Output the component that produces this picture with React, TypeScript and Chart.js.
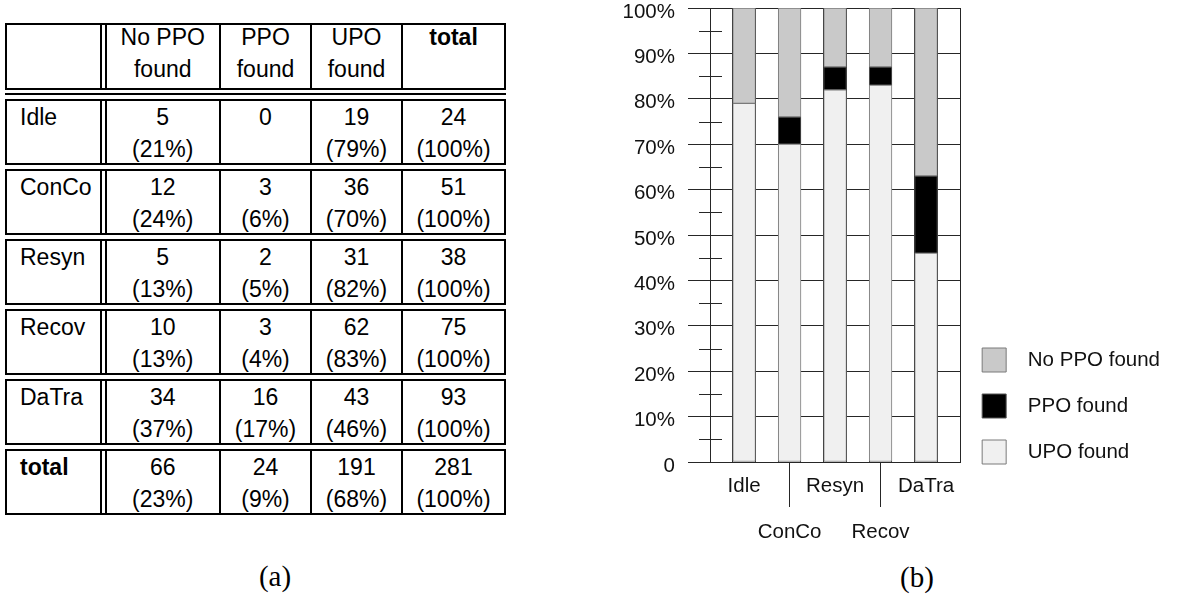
import React, { useEffect, useRef } from 'react';
import { Chart, registerables } from 'chart.js';

Chart.register(...registerables);

// ---------- chart data (percent of cases per category) ----------
const categories = ['Idle', 'ConCo', 'Resyn', 'Recov', 'DaTra'];
const upoFoundPct = [79, 70, 82, 83, 46];
const ppoFoundPct = [0, 6, 5, 4, 17];
const noPpoFoundPct = [21, 24, 13, 13, 37];
const seriesLabels = ['No PPO found', 'PPO found', 'UPO found'];
const minorTickValues = [5, 15, 25, 35, 45, 55, 65, 75, 85, 95];

// ---------- table data ----------
const headerCells = ['', 'No PPO\nfound', 'PPO\nfound', 'UPO\nfound', 'total'];
const rowNames = ['Idle', 'ConCo', 'Resyn', 'Recov', 'DaTra', 'total'];
const noPpoCount = [5, 12, 5, 10, 34, 66];
const noPpoShare = ['21%', '24%', '13%', '13%', '37%', '23%'];
const ppoCount = [0, 3, 2, 3, 16, 24];
const ppoShare = ['', '6%', '5%', '4%', '17%', '9%'];
const upoCount = [19, 36, 31, 62, 43, 191];
const upoShare = ['79%', '70%', '82%', '83%', '46%', '68%'];
const totalCount = [24, 51, 38, 75, 93, 281];
const totalShare = ['100%', '100%', '100%', '100%', '100%', '100%'];

// ---------- layout (not data) ----------
const GRID_COLUMNS = 11; // bars sit in every second column of the plot grid
const barX = (i: number) => 2 * i + 1.5;
const GRID = '#262626';
const TEXT = '#111';
const FONT_SIZE = 20.5;

const COL_LINES = [93, 97.5, 212, 303, 394];
const CELLS: [number, number][] = [[0, 93], [99.5, 212], [214, 303], [305, 394], [396, 497]];

const minorTicksPlugin = {
  id: 'minorTicks',
  afterDatasetsDraw(chart: any) {
    const { ctx, chartArea, scales } = chart;
    const y = scales.y;
    ctx.save();
    ctx.strokeStyle = GRID;
    ctx.lineWidth = 1;
    minorTickValues.forEach((v) => {
      const py = Math.round(y.getPixelForValue(v)) + 0.5;
      ctx.beginPath();
      ctx.moveTo(chartArea.left - 11, py);
      ctx.lineTo(chartArea.left + 12, py);
      ctx.stroke();
    });
    ctx.restore();
  },
};

function StackedChart() {
  const ref = useRef<HTMLCanvasElement>(null);
  useEffect(() => {
    Chart.defaults.font.family = "'Liberation Sans', Arial, sans-serif";
    const pts = (vals: number[]) => categories.map((_, i) => ({ x: barX(i), y: vals[i] }));
    const chart = new Chart(ref.current as HTMLCanvasElement, {
      type: 'bar',
      data: {
        datasets: [
          { label: seriesLabels[2], data: pts(upoFoundPct), backgroundColor: '#f0f0f0', borderColor: '#7a7a7a' },
          { label: seriesLabels[1], data: pts(ppoFoundPct), backgroundColor: '#000000', borderColor: '#555555' },
          { label: seriesLabels[0], data: pts(noPpoFoundPct), backgroundColor: '#c9c9c9', borderColor: '#7a7a7a' },
        ] as any,
      },
      options: {
        animation: false,
        responsive: true,
        maintainAspectRatio: false,
        layout: { padding: { top: 8, bottom: 41, left: 0, right: 16 } },
        datasets: {
          bar: { borderWidth: 1, borderSkipped: false, barPercentage: 1, categoryPercentage: 1 } as any,
        },
        plugins: {
          tooltip: { enabled: false },
          legend: {
            position: 'right',
            align: 'start',
            reverse: true,
            title: { display: true, text: '', padding: { top: 0, bottom: 306 }, font: { size: 10, lineHeight: '12px' } },
            labels: {
              boxWidth: 24,
              boxHeight: 24,
              padding: 22,
              color: TEXT,
              font: { size: FONT_SIZE },
              generateLabels: (c: any) =>
                (Chart.defaults.plugins.legend.labels.generateLabels as any)(c).map((it: any) => ({
                  ...it,
                  text: '  ' + it.text,
                })),
            },
          },
        },
        scales: {
          x: {
            type: 'linear',
            stacked: true,
            offset: false,
            min: 0,
            max: GRID_COLUMNS,
            weight: 0,
            afterBuildTicks: (s: any) => {
              s.ticks = Array.from({ length: GRID_COLUMNS + 1 }, (_, i) => ({ value: i }));
            },
            ticks: { display: false },
            grid: { offset: false, color: GRID, drawTicks: false, lineWidth: 1 },
            border: { color: GRID },
          },
          xLabels: {
            type: 'linear',
            position: 'bottom',
            offset: false,
            min: 0,
            max: GRID_COLUMNS,
            weight: 1,
            afterBuildTicks: (s: any) => {
              s.ticks = categories.map((_, i) => ({ value: barX(i) }));
            },
            afterFit: (s: any) => {
              s.height = 93;
            },
            grid: {
              offset: false,
              drawOnChartArea: false,
              tickLength: 45,
              tickColor: (ctx: any) => (ctx.index % 2 === 1 ? GRID : 'rgba(0,0,0,0)'),
            },
            border: { display: false },
            ticks: {
              autoSkip: false,
              maxRotation: 0,
              minRotation: 0,
              padding: -44,
              color: TEXT,
              font: { size: FONT_SIZE, lineHeight: '46px' },
              callback: (_v: any, i: number) => (i % 2 === 1 ? ['', categories[i]] : categories[i]),
            },
          },
          y: {
            stacked: true,
            min: 0,
            max: 100,
            afterFit: (s: any) => {
              s.width = 710;
              s.paddingTop = 0;
              s.paddingBottom = 0;
            },
            ticks: {
              stepSize: 10,
              padding: 13,
              labelOffset: 4,
              color: TEXT,
              font: { size: FONT_SIZE },
              callback: (v: any) => (v === 0 ? '0' : v + '%'),
            },
            grid: { color: GRID, tickColor: GRID, tickLength: 22, lineWidth: 1 },
            border: { color: GRID },
          },
        } as any,
      },
      plugins: [minorTicksPlugin],
    });
    return () => chart.destroy();
  }, []);
  return (
    <div style={{ position: 'absolute', left: 0, top: 0, width: 1186, height: 596 }}>
      <canvas ref={ref} />
    </div>
  );
}

function Box({ top, height, cells, textTop }: { top: number; height: number; cells: { text: string; bold?: boolean }[]; textTop: number }) {
  return (
    <div
      style={{
        position: 'absolute',
        left: 5,
        top,
        width: 501,
        height,
        border: '2px solid #000',
        boxSizing: 'border-box',
      }}
    >
      {COL_LINES.map((x) => (
        <div key={x} style={{ position: 'absolute', left: x, top: 0, bottom: 0, width: 2, background: '#000' }} />
      ))}
      {cells.map((c, j) => (
        <div
          key={j}
          style={{
            position: 'absolute',
            left: CELLS[j][0],
            width: CELLS[j][1] - CELLS[j][0],
            top: textTop,
            textAlign: j === 0 ? 'left' : 'center',
            paddingLeft: j === 0 ? 13 : 0,
            boxSizing: 'border-box',
            fontWeight: c.bold ? 'bold' : 'normal',
            whiteSpace: 'pre',
            lineHeight: '32px',
          }}
        >
          {c.text}
        </div>
      ))}
    </div>
  );
}

function DataTable() {
  const cellText = (count: number, share: string) => (share ? `${count}\n(${share})` : `${count}`);
  return (
    <div style={{ fontFamily: "'Liberation Sans', Arial, sans-serif", fontSize: 23, color: '#000' }}>
      <Box
        top={23}
        height={67}
        textTop={-4}
        cells={headerCells.map((t, j) => ({ text: t, bold: j === 4 }))}
      />
      <div style={{ position: 'absolute', left: 5, top: 93, width: 501, height: 2, background: '#000' }} />
      {rowNames.map((name, i) => (
        <Box
          key={name}
          top={99 + i * 70}
          height={66}
          textTop={0}
          cells={[
            { text: name, bold: i === rowNames.length - 1 },
            { text: cellText(noPpoCount[i], noPpoShare[i]) },
            { text: cellText(ppoCount[i], ppoShare[i]) },
            { text: cellText(upoCount[i], upoShare[i]) },
            { text: cellText(totalCount[i], totalShare[i]) },
          ]}
        />
      ))}
    </div>
  );
}

export default function App() {
  const sub = {
    position: 'absolute' as const,
    width: 100,
    textAlign: 'center' as const,
    fontFamily: "'Liberation Serif', 'DejaVu Serif', serif",
    fontSize: 29,
    lineHeight: '32px',
    color: '#000',
  };
  return (
    <div style={{ position: 'absolute', left: 0, top: 0, width: 1186, height: 596, background: '#fff', overflow: 'hidden' }}>
      <DataTable />
      <div style={{ ...sub, left: 225, top: 560 }}>(a)</div>
      <div style={{ ...sub, left: 867, top: 561 }}>(b)</div>
      <StackedChart />
    </div>
  );
}
